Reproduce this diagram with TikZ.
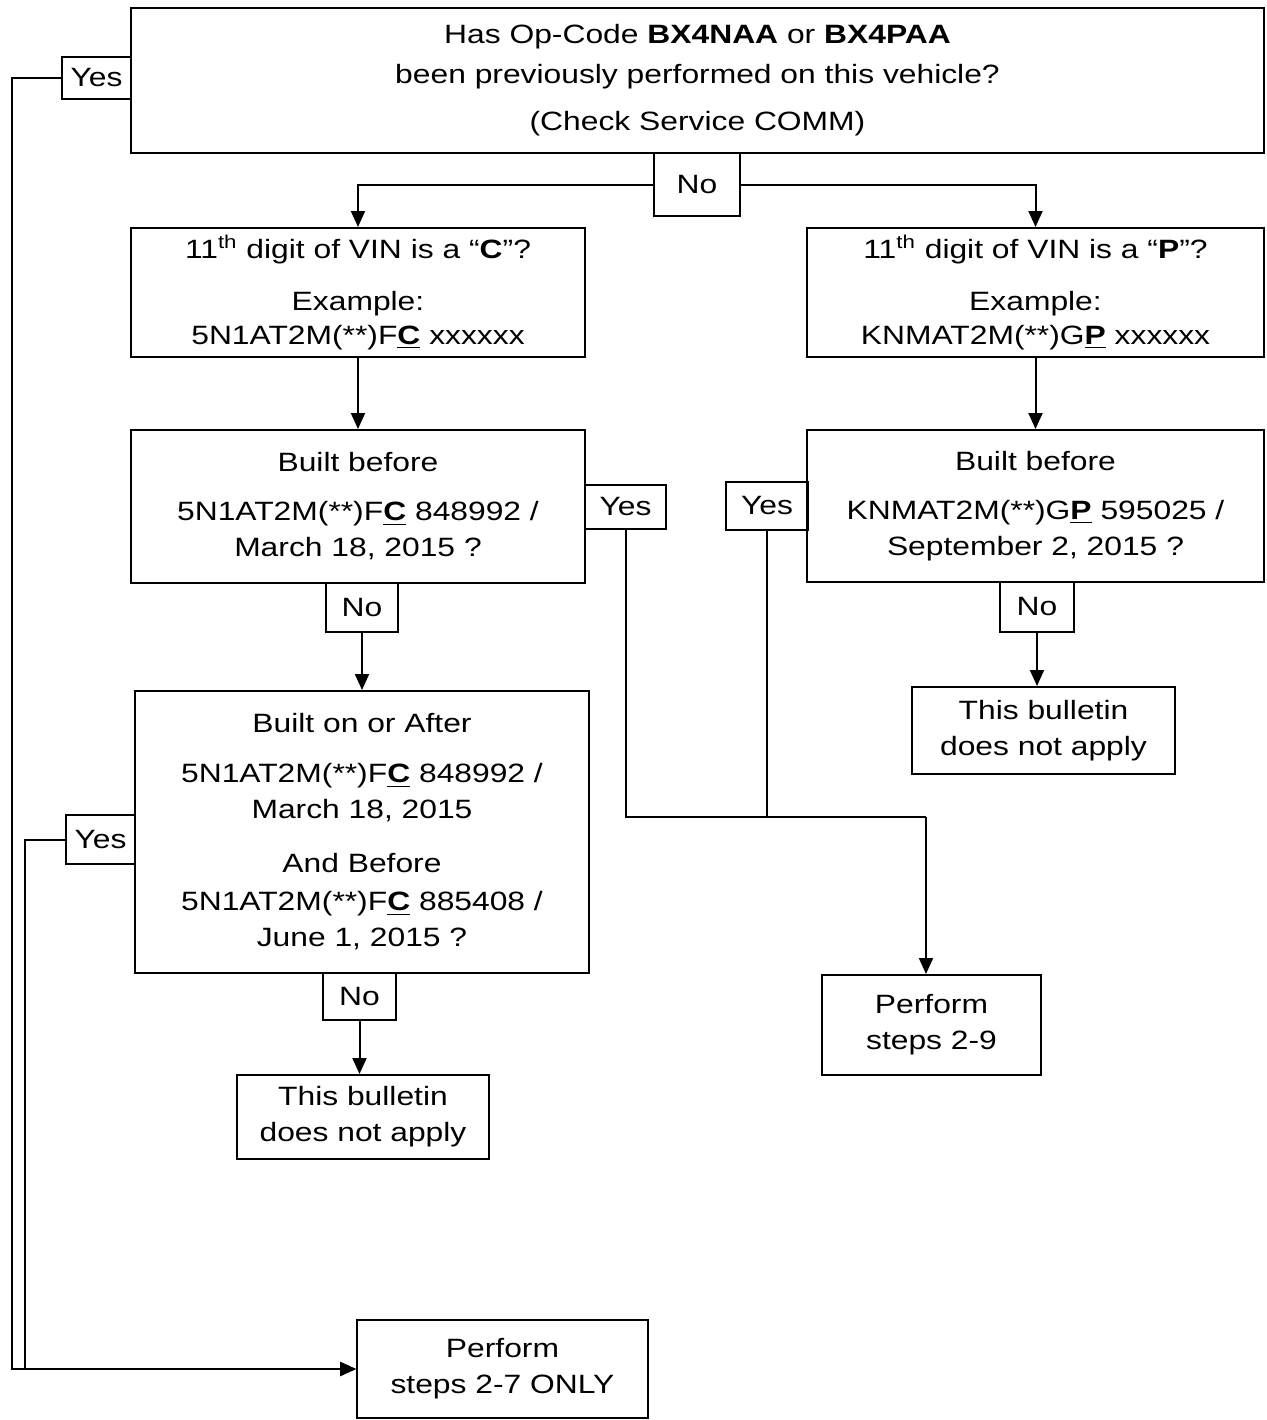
\documentclass[tikz,border=0pt]{standalone}
\usepackage{fontspec}
\setmainfont{Liberation Sans}[FakeStretch=1.2]
\usetikzlibrary{arrows.meta}

\begin{document}
\begin{tikzpicture}[x=0.5pt,y=-0.5pt]
\tikzset{box style/.style={shape=rectangle,draw=black,line width=1pt,align=center,inner sep=0pt,
                           font=\fontsize{13.25pt}{18pt}\selectfont},
         line style/.style={line width=1pt},
         arrow style/.style={line style,-{Triangle[length=8pt,width=7pt]}}}

\useasboundingbox (0,0) rectangle (1267,1420);

% question boxes
\node[box style, minimum width=566.5pt, minimum height=72.5pt] at (697.5, 80.5) (q0)
     {Has Op-Code \textbf{BX4NAA} or \textbf{BX4PAA}\\[2pt]
      been previously performed on this vehicle?\\[5.5pt]
      (Check Service COMM)};
\node[box style, minimum width=227pt, minimum height=64.5pt] at (358, 292.5) (c1)
     {11\textsuperscript{th} digit of VIN is a “\textbf{C}”?\\[8pt]
      Example:\\[-1pt]
      5N1AT2M(**)F\underline{\textbf{C}} xxxxxx};
\node[box style, minimum width=228.5pt, minimum height=64.5pt] at (1035.5, 292.5) (p1)
     {11\textsuperscript{th} digit of VIN is a “\textbf{P}”?\\[8pt]
      Example:\\[-1pt]
      KNMAT2M(**)G\underline{\textbf{P}} xxxxxx};
\node[box style, minimum width=227pt, minimum height=76.5pt] at (358, 506.5) (c2)
     {Built before\\[6.5pt]
      5N1AT2M(**)F\underline{\textbf{C}} 848992 /\\
      March 18, 2015 ?};
\node[box style, minimum width=228.5pt, minimum height=76pt] at (1035.5, 506) (p2)
     {Built before\\[6.5pt]
      KNMAT2M(**)G\underline{\textbf{P}} 595025 /\\
      September 2, 2015 ?};
\node[box style, minimum width=227pt, minimum height=141pt] at (362, 832) (c3)
     {Built on or After\\[7pt]
      5N1AT2M(**)F\underline{\textbf{C}} 848992 /\\
      March 18, 2015\\[9pt]
      And Before\\[1pt]
      5N1AT2M(**)F\underline{\textbf{C}} 885408 /\\
      June 1, 2015 ?};

% result boxes
\node[box style, minimum width=131.5pt, minimum height=43.5pt] at (1043.5, 730.5) (bulp)
     {This bulletin\\does not apply};
\node[box style, minimum width=126pt, minimum height=42pt] at (363, 1117) (bulc)
     {This bulletin\\does not apply};
\node[box style, minimum width=109.5pt, minimum height=50pt] at (931.5, 1025) (perf9)
     {Perform\\steps 2-9};
\node[box style, minimum width=145.5pt, minimum height=49pt] at (502.5, 1369) (perf7)
     {Perform\\steps 2-7 ONLY};

% yes / no tags
\node[box style, minimum width=34.5pt, minimum height=21pt]   at (96.5, 78)    (yes0) {Yes};
\node[box style, minimum width=43pt,   minimum height=31.5pt] at (697, 184.5)  (no0)  {No};
\node[box style, minimum width=40.5pt, minimum height=22pt]   at (625.5, 507)  (yes1) {Yes};
\node[box style, minimum width=41pt,   minimum height=24pt]   at (767, 506)    (yes2) {Yes};
\node[box style, minimum width=36pt,   minimum height=24.5pt] at (362, 607.5)  (no2)  {No};
\node[box style, minimum width=37pt,   minimum height=25pt]   at (1037, 607)   (no4)  {No};
\node[box style, minimum width=34.5pt, minimum height=24.5pt] at (100.5, 839.5) (yes3) {Yes};
\node[box style, minimum width=36.5pt, minimum height=23.5pt] at (359.5, 996.5) (no3)  {No};

\coordinate (left1) at (12, 78);
\coordinate (left2) at (25, 839.5);
\coordinate (join)  at (926, 817);

\draw[arrow style] (yes0.west) -- (left1) |- (perf7.west);
\draw[arrow style] (yes3.west) -- (left2) |- (perf7.west);
\draw[arrow style] (no0.west) -| (c1.north);
\draw[arrow style] (no0.east) -| (p1.north);
\draw[arrow style] (c1.south) -- (c2.north);
\draw[arrow style] (p1.south) -- (p2.north);
\draw[arrow style] (no2.south) -- (c3.north);
\draw[arrow style] (no4.south) -- (no4.south |- bulp.north);
\draw[arrow style] (no3.south) -- (no3.south |- bulc.north);
\draw[line style]  (yes1.south) |- (join);
\draw[line style]  (yes2.south) -- (yes2.south |- join);
\draw[arrow style] (join) -- (join |- perf9.north);
\end{tikzpicture}
\end{document}
